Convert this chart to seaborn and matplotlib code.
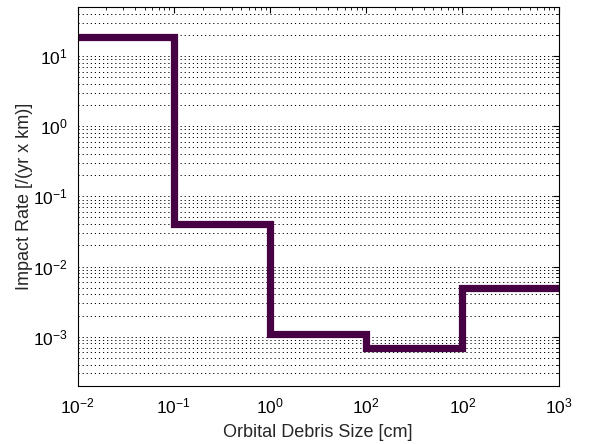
import matplotlib
matplotlib.use('Agg')
import matplotlib.pyplot as plt
import matplotlib.ticker as mticker
import seaborn as sns
import pandas as pd

# Debris size bin edges [cm] and impact rate per bin
size_edges = [1e-2, 1e-1, 1e0, 1e1, 1e2, 1e3]
impact_rate = [18.5, 0.04, 1.08e-3, 7.0e-4, 4.9e-3, 4.9e-3]

x_tick_pos = [1e-2, 1e-1, 1e0, 1e1, 1e2, 1e3]
x_tick_labels = ['$10^{-2}$', '$10^{-1}$', '$10^{0}$', '$10^{2}$', '$10^{2}$', '$10^{3}$']

df = pd.DataFrame({'size': size_edges, 'rate': impact_rate})

sns.set_style('white')
plt.rcParams['font.family'] = ['Liberation Sans', 'DejaVu Sans']
plt.rcParams['mathtext.default'] = 'regular'
plt.rcParams['axes.unicode_minus'] = False

fig = plt.figure(figsize=(5.89, 4.44), dpi=100)
ax = fig.add_axes([77.5 / 589, 1 - 385.7 / 444, (558.7 - 77.5) / 589, (385.7 - 7) / 444])

ax.set_xscale('log')
ax.set_yscale('log')

sns.lineplot(data=df, x='size', y='rate', ax=ax, drawstyle='steps-post',
             color='#480044', linewidth=5.2, solid_joinstyle='miter')

ax.set_xlim(1e-2, 1e3)
ax.set_ylim(2e-4, 50)

# horizontal dotted grid only
ax.yaxis.set_minor_locator(mticker.LogLocator(base=10, subs=range(2, 10), numticks=20))
ax.xaxis.set_minor_locator(mticker.LogLocator(base=10, subs=range(2, 10), numticks=20))
ax.grid(True, which='both', axis='y', linestyle=(0, (1.2, 3)), color='black', linewidth=0.7)
ax.grid(False, axis='x')
ax.set_axisbelow(True)

ax.set_xticks(x_tick_pos)
ax.set_xticklabels(x_tick_labels)
ax.xaxis.set_minor_formatter(mticker.NullFormatter())
ax.yaxis.set_minor_formatter(mticker.NullFormatter())

ax.tick_params(which='both', direction='in', top=True, right=True, labelsize=12.5, colors='black')
ax.tick_params(which='major', length=4, width=0.8)
ax.tick_params(which='minor', length=2, width=0.6)
ax.tick_params(axis='x', pad=8)
ax.tick_params(axis='y', pad=7)

for s in ax.spines.values():
    s.set_color('black')
    s.set_linewidth(0.8)

ax.set_xlabel('Orbital Debris Size [cm]', fontsize=13, labelpad=5)
ax.set_ylabel('Impact Rate [/(yr x km)]', fontsize=13, labelpad=0)

fig.savefig('out.png', dpi=100)
